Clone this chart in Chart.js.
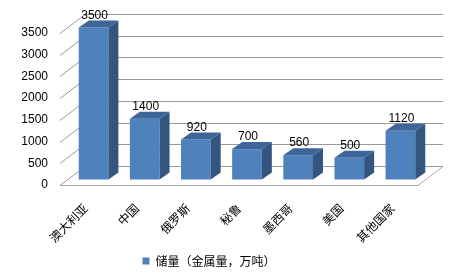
<!DOCTYPE html>
<html>
<head>
<meta charset="utf-8">
<script src="https://cdn.jsdelivr.net/npm/chart.js@4/dist/chart.umd.min.js"></script>
<style>
html,body{margin:0;padding:0;background:#fff;}
#wrap{width:470px;height:277px;}
</style>
</head>
<body>
<div id="wrap"><canvas id="c" width="470" height="277"></canvas></div>
<script>
const categories = ["澳大利亚", "中国", "俄罗斯", "秘鲁", "墨西哥", "美国", "其他国家"];
const reserves = [3500, 1400, 920, 700, 560, 500, 1120];
const seriesName = "储量（金属量，万吨）";
const yTicks = [0, 500, 1000, 1500, 2000, 2500, 3000, 3500];

const FLOOR = {dx: 25, dy: -19};
const SHIFT = {dx: 8, dy: -5.5};
const BAR_DEPTH = {dx: 10, dy: -7};

const threeD = {
  id: 'threeD',
  beforeDatasetsDraw(chart) {
    const ctx = chart.ctx, a = chart.chartArea, y = chart.scales.y;
    ctx.save();
    ctx.strokeStyle = '#9a9a9a';
    ctx.lineWidth = 1;
    yTicks.forEach(v => {
      const py = Math.round(y.getPixelForValue(v)) + 0.5;
      ctx.beginPath();
      ctx.moveTo(a.left, py);
      ctx.lineTo(a.left + FLOOR.dx, py + FLOOR.dy);
      ctx.lineTo(a.right + FLOOR.dx, py + FLOOR.dy);
      ctx.stroke();
    });
    const p0 = Math.round(y.getPixelForValue(0)) + 0.5;
    ctx.strokeStyle = '#a6a6a6';
    ctx.beginPath();
    ctx.moveTo(a.left, p0);
    ctx.lineTo(a.right, p0);
    ctx.lineTo(a.right + FLOOR.dx, p0 + FLOOR.dy);
    ctx.stroke();
    ctx.restore();
    ctx.save();
    ctx.translate(SHIFT.dx, SHIFT.dy);
  },
  afterDatasetsDraw(chart) {
    const ctx = chart.ctx;
    const meta = chart.getDatasetMeta(0);
    meta.data.forEach((bar, i) => {
      const w = bar.width, l = bar.x - w / 2, r = bar.x + w / 2, t = bar.y, b = bar.base;
      ctx.fillStyle = '#34557f';
      ctx.beginPath();
      ctx.moveTo(r, t); ctx.lineTo(r + BAR_DEPTH.dx, t + BAR_DEPTH.dy);
      ctx.lineTo(r + BAR_DEPTH.dx, b + BAR_DEPTH.dy); ctx.lineTo(r, b);
      ctx.closePath(); ctx.fill();
      ctx.fillStyle = '#3e6597';
      ctx.beginPath();
      ctx.moveTo(l, t); ctx.lineTo(l + BAR_DEPTH.dx, t + BAR_DEPTH.dy);
      ctx.lineTo(r + BAR_DEPTH.dx, t + BAR_DEPTH.dy); ctx.lineTo(r, t);
      ctx.closePath(); ctx.fill();
      ctx.fillStyle = '#000';
      ctx.font = '12px "Liberation Sans", Arial, sans-serif';
      ctx.textAlign = 'center';
      ctx.textBaseline = 'alphabetic';
      ctx.fillText(String(reserves[i]), bar.x + 1, t - 9);
    });
    ctx.restore();
  }
};

new Chart(document.getElementById('c'), {
  type: 'bar',
  data: {
    labels: categories,
    datasets: [{
      label: seriesName,
      data: reserves,
      backgroundColor: '#4f81bd',
      borderWidth: 0,
      barPercentage: 0.58,
      categoryPercentage: 1,
      clip: false
    }]
  },
  options: {
    responsive: false,
    animation: false,
    layout: {padding: {left: 0, right: 52, top: 33, bottom: 0}},
    plugins: {
      legend: {
        position: 'bottom',
        labels: {
          boxWidth: 7, boxHeight: 7, color: '#000', padding: 10,
          font: {size: 12, family: '"Noto Sans CJK SC", sans-serif'}
        }
      },
      tooltip: {enabled: false}
    },
    scales: {
      x: {
        grid: {display: false, drawTicks: false},
        border: {display: false},
        ticks: {
          minRotation: 45, maxRotation: 45, padding: 16, color: '#000',
          font: {size: 12, family: '"Noto Sans CJK SC", sans-serif'}
        },
        afterFit: s => { s.height = 60; }
      },
      y: {
        min: 0, max: 3500,
        grid: {display: false, drawTicks: false},
        border: {display: false},
        ticks: {
          stepSize: 500, padding: 12, color: '#000',
          font: {size: 12, family: '"Liberation Sans", Arial, sans-serif'},
          callback: v => String(v)
        },
        afterFit: s => { s.width = 60; }
      }
    }
  },
  plugins: [threeD]
});
</script>
</body>
</html>
